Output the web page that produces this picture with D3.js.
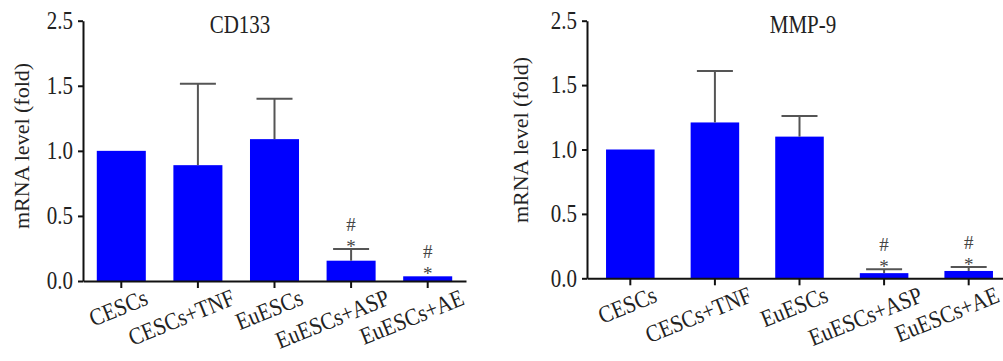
<!DOCTYPE html>
<html>
<head>
<meta charset="utf-8">
<script src="https://cdn.jsdelivr.net/npm/d3@7"></script>
<style>
  body { margin: 0; background: #fff; }
  text { font-family: "Liberation Serif", "Times New Roman", serif; fill: #222; }
</style>
</head>
<body>
<div id="chart"></div>
<script>
// groups shown on both panels
var groups = ["CESCs", "CESCs+TNF", "EuESCs", "EuESCs+ASP", "EuESCs+AE"];

// CD133 panel
var cd133Mean = [1.0, 0.89, 1.09, 0.156, 0.036];
var cd133Sd = [0, 0.625, 0.31, 0.09, 0];
var cd133Marks = ["", "", "", "#*", "#*"];

// MMP-9 panel
var mmp9Mean = [1.0, 1.21, 1.10, 0.04, 0.057];
var mmp9Sd = [0, 0.40, 0.16, 0.03, 0.03];
var mmp9Marks = ["", "", "", "#*", "#*"];

// y ticks (the top label reads 2.5 where 2.0 would sit)
var yTickValues = [0, 0.5, 1.0, 1.5, 2.0];
var yTickLabels = ["0.0", "0.5", "1.0", "1.5", "2.5"];

// glyphs in the figure look a bit taller than wide
var stretch = " scale(1,1.15)";
var W = 1003, H = 361;

var svg = d3
  .select("#chart")
  .append("svg")
  .attr("width", W)
  .attr("height", H);

function drawPanel(opt) {
  var x = d3
    .scaleBand()
    .domain(groups)
    .range([opt.left, opt.right])
    .paddingInner(opt.padIn)
    .paddingOuter(opt.padOut);

  var y = d3.scaleLinear().domain([0, 2]).range([opt.bottom, opt.top]);

  var g = svg.append("g");

  // bars
  g.selectAll("rect.bar")
    .data(groups)
    .enter()
    .append("rect")
    .attr("class", "bar")
    .attr("x", function (d) { return x(d); })
    .attr("width", x.bandwidth())
    .attr("y", function (d, i) { return y(opt.mean[i]); })
    .attr("height", function (d, i) { return y(0) - y(opt.mean[i]); })
    .style("fill", "#0000ff");

  // error bars (upper half only)
  groups.forEach(function (d, i) {
    if (opt.sd[i] <= 0) return;
    var cx = x(d) + x.bandwidth() / 2;
    var top = y(opt.mean[i] + opt.sd[i]);
    g.append("line")
      .attr("x1", cx).attr("x2", cx)
      .attr("y1", y(opt.mean[i])).attr("y2", top)
      .style("stroke", "#555").style("stroke-width", 2);
    g.append("line")
      .attr("x1", cx - 18).attr("x2", cx + 18)
      .attr("y1", top).attr("y2", top)
      .style("stroke", "#555").style("stroke-width", 2);
  });

  // significance marks
  groups.forEach(function (d, i) {
    if (!opt.marks[i]) return;
    var cx = x(d) + x.bandwidth() / 2;
    var top = y(opt.mean[i] + opt.sd[i]);
    g.append("text")
      .attr("x", cx).attr("y", top + 4)
      .attr("text-anchor", "middle")
      .style("font-size", "19px").style("fill", "#444")
      .text("*");
    g.append("text")
      .attr("x", cx).attr("y", top - 18)
      .attr("text-anchor", "middle")
      .style("font-size", "19px").style("fill", "#444")
      .text("#");
  });

  // y axis
  var yAxis = g
    .append("g")
    .attr("transform", "translate(" + opt.left + ",0)")
    .call(
      d3.axisLeft(y)
        .tickValues(yTickValues)
        .tickFormat(function (d, i) { return yTickLabels[i]; })
        .tickSize(5)
        .tickSizeOuter(0)
        .tickPadding(5)
    );
  yAxis.select(".domain").style("stroke", "#111").style("stroke-width", 2);
  yAxis.selectAll(".tick line").style("stroke", "#111").style("stroke-width", 2);
  yAxis
    .selectAll("text")
    .attr("x", 0)
    .attr("transform", "translate(-10,0)" + stretch)
    .style("font-size", "21px")
    .style("font-family", null);

  // x axis
  var xAxis = g
    .append("g")
    .attr("transform", "translate(0," + opt.bottom + ")")
    .call(d3.axisBottom(x).tickSize(7).tickSizeOuter(0));
  xAxis.select(".domain").style("stroke", "#111").style("stroke-width", 2);
  xAxis.selectAll(".tick line").style("stroke", "#111").style("stroke-width", 2);
  xAxis
    .selectAll("text")
    .attr("x", 0)
    .attr("y", 0)
    .attr("dy", 0)
    .attr("text-anchor", "end")
    .style("font-size", "21px")
    .style("font-family", null)
    .attr("transform", function (d) {
      // longer labels sit a little further right of their tick
      var len = this.getComputedTextLength();
      var dx = 16 + 0.2 * len;
      var tickX = x(d) + x.bandwidth() / 2;
      dx = Math.min(dx, W - 2 - tickX); // keep the last label inside the page
      return "translate(" + dx + ",23) rotate(-22)" + stretch;
    });

  // title
  g.append("text")
    .attr("transform", "translate(" + opt.titleX + ",33)" + stretch)
    .attr("text-anchor", "middle")
    .style("font-size", "21px")
    .text(opt.title);

  // y label
  g.append("text")
    .attr("transform", "translate(" + opt.labelX + "," + opt.labelY + ") rotate(-90)")
    .attr("text-anchor", "middle")
    .style("font-size", "22px")
    .text("mRNA level (fold)");
}

drawPanel({
  title: "CD133", mean: cd133Mean, sd: cd133Sd, marks: cd133Marks,
  left: 83, right: 466, padIn: 0.36, padOut: 0.18,
  top: 20.7, bottom: 281, titleX: 240, labelX: 29, labelY: 146
});

drawPanel({
  title: "MMP-9", mean: mmp9Mean, sd: mmp9Sd, marks: mmp9Marks,
  left: 587, right: 1012, padIn: 0.426, padOut: 0.225,
  top: 20.7, bottom: 278.3, titleX: 803, labelX: 528, labelY: 140
});
</script>
</body>
</html>
